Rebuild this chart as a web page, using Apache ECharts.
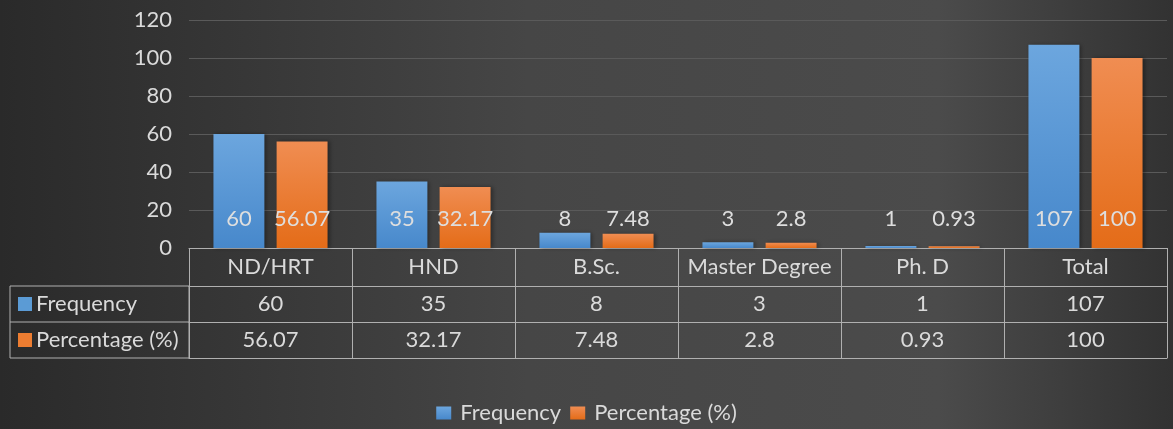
<!DOCTYPE html>
<html>
<head>
<meta charset="utf-8">
<script src="https://cdn.jsdelivr.net/npm/echarts@6/dist/echarts.min.js"></script>
<style>
html,body{margin:0;padding:0;background:#3a3a3a;}
#c{width:1173px;height:429px;}
</style>
</head>
<body>
<div id="c"></div>
<script>
const categories = ['ND/HRT', 'HND', 'B.Sc.', 'Master Degree', 'Ph. D', 'Total'];
const frequency = [60, 35, 8, 3, 1, 107];
const percentage = [56.07, 32.17, 7.48, 2.8, 0.93, 100];
const seriesNames = ['Frequency', 'Percentage (%)'];
const yTicks = { min: 0, max: 120, interval: 20 };

const FONT = 'Lato';
const FS = 22;
const TXT = '#dadada';
const LINE = '#b0b0b0';
const BLUE = '#5b9bd5';
const ORANGE = '#ed7d31';

const GRID = { left: 189, right: 6, top: 20, bottom: 429 - 248 };
const ROW_H = [38, 36, 36];
const baseY = 248;
const rowTop = [baseY, baseY + ROW_H[0], baseY + ROW_H[0] + ROW_H[1], baseY + ROW_H[0] + ROW_H[1] + ROW_H[2]];
const LABEL_COL_LEFT = 10;

function grad(top, bottom) {
  return new echarts.graphic.LinearGradient(0, 0, 0, 1, [
    { offset: 0, color: top }, { offset: 1, color: bottom }
  ]);
}

const chart = echarts.init(document.getElementById('c'), null, { renderer: 'canvas' });

function tableAxis(offset, rowH, tickLen, labelFn, showLabel) {
  return {
    type: 'category',
    data: categories,
    position: 'bottom',
    offset: offset,
    gridIndex: 0,
    boundaryGap: true,
    axisLine: { show: true, lineStyle: { color: LINE, width: 1 } },
    axisTick: { show: tickLen > 0, length: tickLen, interval: 0, alignWithLabel: false, lineStyle: { color: LINE, width: 1 } },
    axisLabel: {
      show: showLabel, interval: 0, margin: Math.round(rowH / 2 - FS / 2),
      color: TXT, fontFamily: FONT, fontSize: FS, lineHeight: FS,
      formatter: labelFn
    },
    splitLine: { show: false }
  };
}

const labelStyle = {
  show: true, position: 'insideBottom', distance: 18,
  color: '#dedede', fontFamily: FONT, fontSize: FS
};

const graphics = [];
[rowTop[1], rowTop[2], rowTop[3]].forEach(function (y) {
  graphics.push({ type: 'line', shape: { x1: LABEL_COL_LEFT, y1: y, x2: GRID.left, y2: y }, style: { stroke: LINE, lineWidth: 1 }, silent: true });
});
graphics.push({ type: 'line', shape: { x1: LABEL_COL_LEFT, y1: rowTop[1], x2: LABEL_COL_LEFT, y2: rowTop[3] }, style: { stroke: LINE, lineWidth: 1 }, silent: true });
graphics.push({ type: 'line', shape: { x1: GRID.left, y1: rowTop[1], x2: GRID.left, y2: rowTop[3] }, style: { stroke: LINE, lineWidth: 1 }, silent: true });
[BLUE, ORANGE].forEach(function (c, i) {
  const cy = (rowTop[i + 1] + rowTop[i + 2]) / 2;
  graphics.push({ type: 'rect', shape: { x: 18, y: cy - 7, width: 14, height: 14 }, style: { fill: c }, silent: true });
  graphics.push({ type: 'text', x: 36, y: cy, style: { text: seriesNames[i], fill: TXT, font: FS + 'px ' + FONT, verticalAlign: 'middle' }, silent: true });
});

chart.setOption({
  animation: false,
  backgroundColor: new echarts.graphic.LinearGradient(0, 0, 1, 0, [
    { offset: 0, color: '#2a2a2a' },
    { offset: 0.45, color: '#464646' },
    { offset: 0.8, color: '#4b4b4b' },
    { offset: 1, color: '#323232' }
  ]),
  grid: { left: GRID.left, right: GRID.right, top: GRID.top, bottom: GRID.bottom, containLabel: false },
  legend: {
    data: seriesNames,
    top: 397, left: 'center',
    icon: 'rect', itemWidth: 15, itemHeight: 13, itemGap: 9,
    textStyle: { color: TXT, fontFamily: FONT, fontSize: FS, padding: [0, 0, 0, 4] }
  },
  xAxis: [
    tableAxis(0, ROW_H[0], ROW_H[0], function (v) { return v; }, true),
    tableAxis(ROW_H[0], ROW_H[1], ROW_H[1], function (v, i) { return String(frequency[i]); }, true),
    tableAxis(ROW_H[0] + ROW_H[1], ROW_H[2], ROW_H[2], function (v, i) { return String(percentage[i]); }, true),
    tableAxis(ROW_H[0] + ROW_H[1] + ROW_H[2], ROW_H[2], 0, function () { return ''; }, false)
  ],
  yAxis: {
    type: 'value', min: yTicks.min, max: yTicks.max, interval: yTicks.interval,
    axisLine: { show: false }, axisTick: { show: false },
    axisLabel: { color: TXT, fontFamily: FONT, fontSize: FS, margin: 17 },
    splitLine: { lineStyle: { color: '#5a5a5a', width: 1 } }
  },
  series: [
    {
      name: seriesNames[0], type: 'bar', xAxisIndex: 0, data: frequency,
      barCategoryGap: '30%', barGap: '24%',
      itemStyle: { color: grad('#6ca6de', '#4788cb'), shadowColor: 'rgba(0,0,0,0.35)', shadowBlur: 4, shadowOffsetX: 2 },
      label: labelStyle
    },
    {
      name: seriesNames[1], type: 'bar', xAxisIndex: 0, data: percentage,
      barCategoryGap: '30%', barGap: '24%',
      itemStyle: { color: grad('#f08d52', '#e46c18'), shadowColor: 'rgba(0,0,0,0.35)', shadowBlur: 4, shadowOffsetX: 2 },
      label: labelStyle
    }
  ],
  graphic: graphics
});
</script>
</body>
</html>
